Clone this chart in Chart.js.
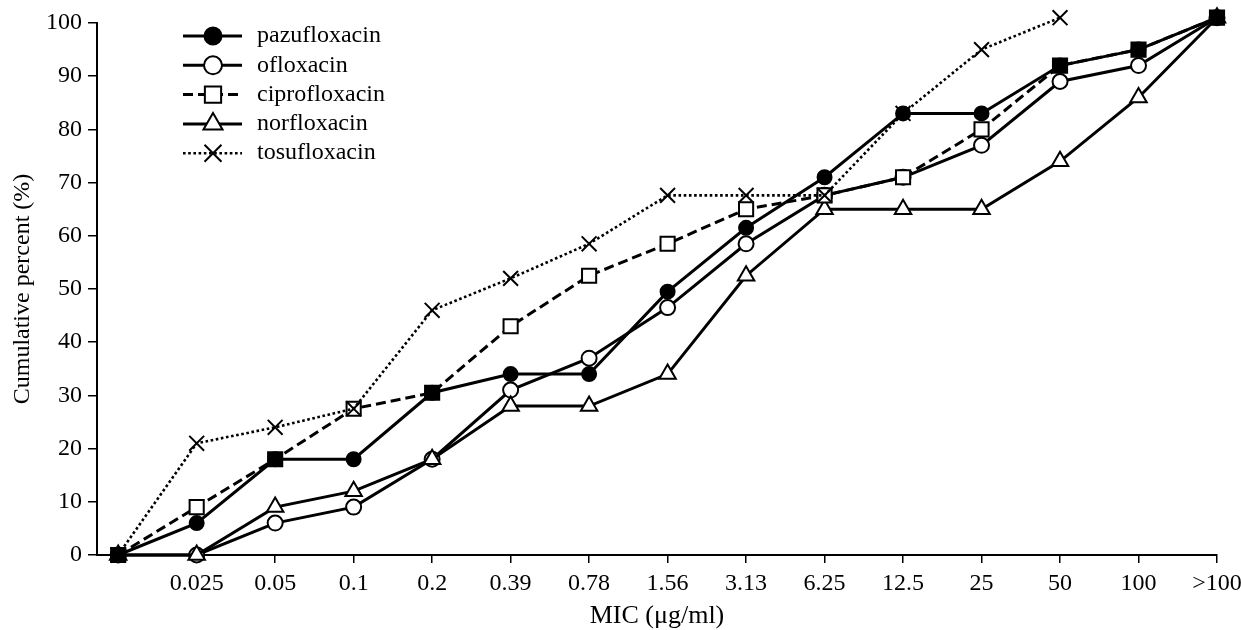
<!DOCTYPE html>
<html>
<head>
<meta charset="utf-8">
<script src="https://cdn.jsdelivr.net/npm/chart.js@4/dist/chart.umd.min.js"></script>
<style>
  html, body { margin: 0; padding: 0; background: #fff; }
  #wrap { width: 1241px; height: 630px; }
</style>
</head>
<body>
<div id="wrap"><canvas id="micChart"></canvas></div>
<script>
// MIC categories (first slot is the unlabelled origin)
const micLabels = ["", "0.025", "0.05", "0.1", "0.2", "0.39", "0.78", "1.56", "3.13", "6.25", "12.5", "25", "50", "100", ">100"];

// cumulative percent
const pazufloxacin  = [0, 6, 18, 18, 30.5, 34, 34, 49.5, 61.5, 71, 83, 83, 92, 95, 101];
const ofloxacin     = [0, 0, 6, 9, 18, 31, 37, 46.5, 58.5, 67.6, 71, 77, 89, 92, 101];
const ciprofloxacin = [0, 9, 18, 27.5, 30.5, 43, 52.5, 58.5, 65, 67.6, 71, 80, 92, 95, 101];
const norfloxacin   = [0, 0, 9, 12, 18, 28, 28, 34, 52.5, 65, 65, 65, 74, 86, 101];
const tosufloxacin  = [0, 21, 24, 27.5, 46, 52, 58.5, 67.6, 67.6, 67.6, 83, 95, 101];

const yTickValues = [0, 10, 20, 30, 40, 50, 60, 70, 80, 90, 100];

const SERIF = "'Liberation Serif', 'DejaVu Serif', serif";

function toPoints(arr) {
  return arr.map((v, i) => ({ x: i, y: v }));
}

// where cipro sits on top of pazu the figure shows a filled square
const ciproFill = ciprofloxacin.map((v, i) => (v === pazufloxacin[i] ? "#000" : "#fff"));

function baseSet(label, values, extra) {
  return Object.assign({
    label: label,
    data: toPoints(values),
    borderColor: "#000",
    borderWidth: 3,
    pointBorderColor: "#000",
    pointBorderWidth: 2,
    tension: 0,
    clip: false,
    fill: false
  }, extra);
}

const datasets = [
  baseSet("pazufloxacin", pazufloxacin, {
    pointStyle: "circle", pointRadius: 7, pointBackgroundColor: "#000", legendFill: "#000", order: 2
  }),
  baseSet("ofloxacin", ofloxacin, {
    pointStyle: "circle", pointRadius: 7.5, pointBackgroundColor: "#fff", legendFill: "#fff", order: 4
  }),
  baseSet("ciprofloxacin", ciprofloxacin, {
    pointStyle: "rect", pointRadius: 10, pointBackgroundColor: ciproFill, legendFill: "#fff",
    borderDash: [10, 5], order: 1
  }),
  baseSet("norfloxacin", norfloxacin, {
    pointStyle: "triangle", pointRadius: 9.5, pointBackgroundColor: "#fff", legendFill: "#fff", order: 3
  }),
  baseSet("tosufloxacin", tosufloxacin, {
    pointStyle: "crossRot", pointRadius: 10.5, pointBackgroundColor: "#fff", legendFill: "#fff",
    borderWidth: 2.6, borderDash: [2.6, 2.6], pointBorderWidth: 2, order: 0
  })
];

// small marker painter for the legend, same shapes as Chart.js uses
function paintMarker(ctx, style, r, x, y) {
  ctx.beginPath();
  if (style === "circle") {
    ctx.arc(x, y, r, 0, Math.PI * 2);
    ctx.fill();
  } else if (style === "rect") {
    const s = r * Math.SQRT1_2;
    ctx.rect(x - s, y - s, 2 * s, 2 * s);
    ctx.fill();
  } else if (style === "triangle") {
    let a = 0;
    ctx.moveTo(x + Math.sin(a) * r, y - Math.cos(a) * r);
    a += Math.PI * 2 / 3;
    ctx.lineTo(x + Math.sin(a) * r, y - Math.cos(a) * r);
    a += Math.PI * 2 / 3;
    ctx.lineTo(x + Math.sin(a) * r, y - Math.cos(a) * r);
    ctx.closePath();
    ctx.fill();
  } else if (style === "crossRot") {
    const s = r * Math.SQRT1_2;
    ctx.moveTo(x - s, y - s); ctx.lineTo(x + s, y + s);
    ctx.moveTo(x - s, y + s); ctx.lineTo(x + s, y - s);
  }
  ctx.stroke();
}

const lineLegend = {
  id: "lineLegend",
  afterDraw(chart) {
    const ctx = chart.ctx;
    const x0 = 183, x1 = 242, xm = 213, xt = 257;
    const top = 36, step = 29.3;
    chart.data.datasets.forEach((ds, i) => {
      const y = top + i * step;
      ctx.save();
      ctx.strokeStyle = "#000";
      ctx.lineWidth = ds.borderWidth;
      ctx.setLineDash(ds.borderDash || []);
      ctx.beginPath();
      ctx.moveTo(x0, y);
      ctx.lineTo(x1, y);
      ctx.stroke();
      ctx.setLineDash([]);
      ctx.lineWidth = ds.pointBorderWidth;
      ctx.fillStyle = ds.legendFill;
      paintMarker(ctx, ds.pointStyle, ds.pointRadius + 1.5, xm, y);
      ctx.fillStyle = "#000";
      ctx.font = "24px " + SERIF;
      ctx.textBaseline = "middle";
      ctx.textAlign = "left";
      ctx.fillText(ds.label, xt, y);
      ctx.restore();
    });
  }
};

new Chart(document.getElementById("micChart"), {
  type: "line",
  data: { datasets: datasets },
  plugins: [lineLegend],
  options: {
    responsive: true,
    maintainAspectRatio: false,
    animation: false,
    events: [],
    layout: { padding: { top: 23, right: 24, left: 0, bottom: 0 } },
    plugins: { legend: { display: false }, tooltip: { enabled: false } },
    scales: {
      x: {
        type: "linear",
        min: -0.27,
        max: micLabels.length - 1,
        afterBuildTicks: (scale) => {
          scale.ticks = micLabels.map((l, i) => ({ value: i }));
        },
        afterFit: (scale) => {
          scale.height = 75;
          scale.paddingLeft = 0;
          scale.paddingRight = 0;
        },
        ticks: {
          callback: (v) => micLabels[v],
          color: "#000",
          font: { family: SERIF, size: 24 },
          padding: 6,
          maxRotation: 0,
          autoSkip: false
        },
        grid: { drawOnChartArea: false, drawTicks: true, tickLength: 8, color: "#000", lineWidth: 1.5 },
        border: { color: "#000", width: 2 },
        title: {
          display: true,
          text: "MIC (μg/ml)",
          color: "#000",
          font: { family: SERIF, size: 26 },
          padding: { top: 0, bottom: -2 }
        }
      },
      y: {
        min: 0,
        max: 100,
        afterBuildTicks: (scale) => {
          scale.ticks = yTickValues.map((v) => ({ value: v }));
        },
        afterFit: (scale) => { scale.width = 97; },
        ticks: {
          color: "#000",
          font: { family: SERIF, size: 24 },
          padding: 6
        },
        grid: { drawOnChartArea: false, drawTicks: true, tickLength: 9, color: "#000", lineWidth: 1.5 },
        border: { color: "#000", width: 2 },
        title: {
          display: true,
          text: "Cumulative percent (%)",
          color: "#000",
          font: { family: SERIF, size: 24 },
          padding: { top: 8, bottom: 0 }
        }
      }
    }
  }
});
</script>
</body>
</html>
